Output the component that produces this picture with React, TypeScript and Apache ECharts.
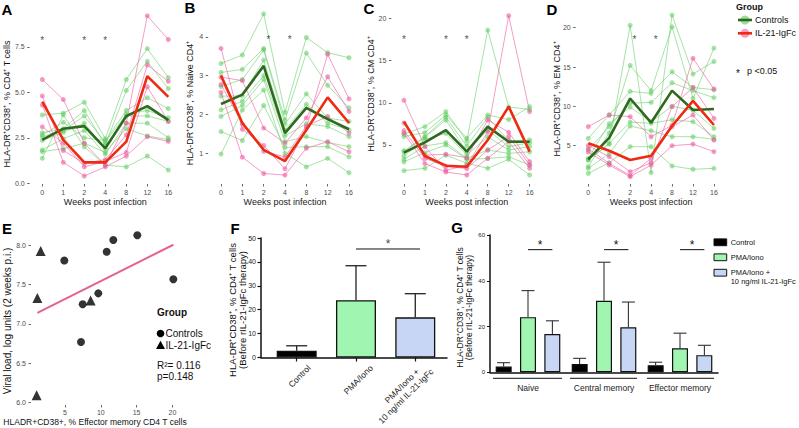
import React, { useEffect, useRef } from 'react';
import * as echarts from 'echarts';

// ---------- DATA ----------
const weeks = ['0', '1', '2', '4', '8', '12', '16'];

// Panel A: HLA-DR+CD38+, % CD4+ T cells
const aControls = [
  [3.75, 3.85, 4.45, 2.45, 5.7, 7.4, 5.8],
  [2.78, 3.0, 4.0, 2.1, 5.1, 6.7, 5.2],
  [2.65, 3.35, 2.5, 2.35, 4.0, 4.7, 4.1],
  [2.56, 2.9, 3.7, 2.25, 3.8, 4.0, 3.6],
  [2.36, 2.8, 3.3, 1.9, 3.7, 3.7, 3.4],
  [1.83, 2.45, 2.9, 1.6, 3.3, 3.3, 2.5],
  [1.74, 1.9, 2.2, 1.7, 3.0, 2.6, 2.4],
  [1.37, 3.75, 2.0, 1.0, 0.9, 1.5, 0.73],
];
const aIL21 = [
  [5.7, 4.6, 2.2, 1.0, 3.3, 9.2, 7.9],
  [4.8, 1.8, 1.1, 1.3, 2.65, 6.5, 5.6],
  [3.1, 2.2, 0.9, 1.2, 1.7, 5.3, 3.4],
  [4.3, 1.15, 0.4, 0.9, 1.5, 2.56, 2.3],
];
const aCtrlMean = [2.38, 3.0, 3.14, 1.92, 3.69, 4.24, 3.47];
const aIL21Mean = [4.48, 2.38, 1.15, 1.15, 2.29, 5.89, 4.75];
const aStarX = [0, 2, 3];
const aStarY = 7.95;

// Panel B: % Naive CD4+
const bControls = [
  [3.31, 3.53, 4.59, 2.05, 3.98, 3.59, 3.46],
  [3.08, 3.16, 3.7, 1.86, 3.58, 2.75, 2.17],
  [2.72, 2.9, 3.66, 1.75, 2.53, 1.91, 1.82],
  [2.47, 2.48, 3.4, 1.6, 2.26, 1.78, 1.6],
  [2.12, 2.34, 3.0, 1.45, 1.76, 1.69, 1.43],
  [1.95, 2.23, 2.9, 1.3, 1.43, 1.28, 1.17],
  [1.56, 1.33, 2.23, 1.15, 1.17, 1.17, 0.91],
  [0.98, 2.11, 2.63, 1.0, 0.65, 0.87, 0.5],
];
const bIL21 = [
  [3.7, 1.62, 1.2, 0.6, 1.65, 3.55, 2.4],
  [2.96, 2.87, 1.65, 1.26, 1.91, 2.97, 2.08],
  [2.77, 1.75, 1.05, 0.91, 1.7, 1.95, 1.52],
  [2.57, 0.9, 0.48, 0.44, 1.13, 1.3, 1.04],
];
const bCtrlMean = [2.27, 2.51, 3.25, 1.52, 2.17, 1.88, 1.62];
const bIL21Mean = [3.0, 1.78, 1.09, 0.8, 1.6, 2.44, 1.78];
const bStarX = [2.22, 3.22];
const bStarY = 3.97;

// Panel C: % CM CD4+
const cControls = [
  [6.3, 7.17, 8.95, 5.47, 18.6, 9.5, 9.2],
  [6.0, 6.46, 8.55, 5.8, 8.55, 8.0, 9.54],
  [4.3, 5.98, 8.28, 4.88, 8.28, 5.5, 5.59],
  [4.2, 5.9, 7.96, 4.21, 6.77, 4.8, 5.27],
  [3.7, 5.67, 6.38, 3.8, 5.98, 4.4, 4.8],
  [3.3, 4.88, 5.27, 3.42, 4.41, 4.0, 4.2],
  [3.0, 4.09, 5.0, 3.3, 3.4, 3.6, 2.63],
  [1.96, 2.24, 3.8, 2.83, 2.24, 3.3, 1.45],
];
const cIL21 = [
  [10.3, 4.8, 2.0, 2.6, 6.57, 20.3, 8.95],
  [7.6, 3.8, 3.9, 3.5, 7.96, 6.5, 3.03],
  [6.7, 3.4, 2.5, 2.2, 4.41, 6.0, 2.63],
  [6.4, 2.8, 1.8, 1.45, 3.42, 5.4, 2.24],
];
const cCtrlMean = [4.09, 5.3, 6.77, 4.21, 7.17, 5.39, 5.39];
const cIL21Mean = [7.76, 3.7, 2.55, 2.43, 5.59, 9.54, 4.21];
const cStarX = [0, 2, 3];
const cStarY = 17.7;

// Panel D: % EM CD4+
const dControls = [
  [3.2, 5.2, 20.3, 1.57, 21.6, 14.1, 15.7],
  [2.33, 6.6, 15.2, 12.0, 20.1, 11.0, 17.4],
  [5.93, 8.9, 11.9, 11.65, 14.4, 12.4, 12.1],
  [4.45, 7.42, 10.4, 10.5, 13.0, 12.0, 11.1],
  [3.39, 7.8, 9.9, 8.05, 10.0, 9.5, 7.2],
  [3.18, 5.3, 8.0, 7.84, 8.3, 8.05, 6.14],
  [2.12, 4.0, 7.5, 6.9, 6.14, 6.14, 5.8],
  [1.48, 2.84, 4.87, 4.87, 2.42, 2.0, 2.12],
];
const dIL21 = [
  [7.42, 8.9, 8.69, 6.14, 7.6, 16.1, 12.2],
  [5.0, 3.6, 1.69, 2.84, 9.96, 12.4, 8.47],
  [4.6, 2.75, 1.19, 3.4, 7.4, 8.9, 5.72],
  [4.2, 2.54, 1.06, 2.54, 5.0, 5.2, 4.24],
];
const dCtrlMean = [3.26, 6.0, 11.0, 7.92, 12.0, 9.53, 9.66];
const dIL21Mean = [5.3, 4.36, 3.18, 3.73, 7.5, 10.7, 7.63];
const dStarX = [2.2, 3.22];
const dStarY = 18.72;

// Panel E: scatter
const eCtrlX = [4.9, 7.23, 7.47, 9.65, 10.82, 11.75, 15.1, 20.13];
const eCtrlY = [7.81, 6.77, 7.25, 7.39, 7.92, 8.07, 8.13, 7.57];
const eIL21X = [1.6, 1.14, 8.58, 1.04];
const eIL21Y = [7.93, 7.33, 7.3, 6.09];
const eFitX = [1.14, 20.13];
const eFitY = [7.14, 8.01];
const eXTicks = [5, 10, 15, 20];
const eYTicks = [6.0, 6.5, 7.0, 7.5, 8.0];

// Panel F: bars
const fCategories = ['Control', 'PMA/Iono', 'PMA/Iono +\n10 ng/ml IL-21-IgFc'];
const fMeans = [2.8, 24.0, 16.8];
const fSD = [2.1, 14.4, 9.9];
const fSigFrom = 1;
const fSigTo = 2.08;
const fSigY = 45.4;
const fStarY = 48.6;

// Panel G: grouped bars
const gCategories = ['Naive', 'Central memory', 'Effector memory'];
const gSeriesNames = ['Control', 'PMA/Iono', 'PMA/Iono +\n10 ng/ml IL-21-IgFc'];
const gMeans = [
  [2.5, 3.6, 3.1],
  [24.1, 31.3, 10.5],
  [16.7, 19.7, 7.5],
];
const gSD = [
  [1.7, 2.5, 1.3],
  [11.6, 16.8, 6.6],
  [5.8, 11.0, 4.3],
];
const gSigY = 53.6;
const gStarY = 57.0;

// ---------- STYLE ----------
const FONT = '"Liberation Sans", Arial, Helvetica, sans-serif';
const GREEN = '#5ccc5c';
const PINK = '#ee5aa0';
const DKGREEN = '#2e6a1e';
const RED = '#ee2a10';
const BAR_COLORS = ['#000000', '#a0f5b0', '#c8d6f6'];
const TICK_GREY = '#4d4d4d';

function buildOption() {
  const grids: any[] = [];
  const xAxes: any[] = [];
  const yAxes: any[] = [];
  const series: any[] = [];
  const graphics: any[] = [];

  const weekIdx = weeks.map((_, i) => i);

  const linePanels = [
    { ctrl: aControls, il: aIL21, cm: aCtrlMean, im: aIL21Mean, sx: aStarX, sy: aStarY, left: 29.7, width: 151.2, min: -0.04, max: 9.63, ticks: [0, 2.5, 5, 7.5], fmt: (v: number) => v.toFixed(1) },
    { ctrl: bControls, il: bIL21, cm: bCtrlMean, im: bIL21Mean, sx: bStarX, sy: bStarY, left: 208.2, width: 153.6, min: 0.21, max: 4.74, ticks: [1, 2, 3, 4], fmt: (v: number) => String(v) },
    { ctrl: cControls, il: cIL21, cm: cCtrlMean, im: cIL21Mean, sx: cStarX, sy: cStarY, left: 391.4, width: 150.8, min: 0.38, max: 21.22, ticks: [5, 10, 15, 20], fmt: (v: number) => String(v) },
    { ctrl: dControls, il: dIL21, cm: dCtrlMean, im: dIL21Mean, sx: dStarX, sy: dStarY, left: 575.7, width: 150.8, min: 0.13, max: 22.5, ticks: [5, 10, 15, 20], fmt: (v: number) => String(v) },
  ];

  linePanels.forEach((p, i) => {
    grids.push({ left: p.left, top: 8, width: p.width, height: 176, containLabel: false, outerBoundsMode: 'none' });
    xAxes.push({
      type: 'value', gridIndex: i, min: -0.6, max: 6.6,
      axisLine: { show: false, onZero: false }, splitLine: { show: false },
      axisTick: { show: true, customValues: weekIdx, length: 2.5, lineStyle: { color: '#444', width: 0.8 } },
      axisLabel: { customValues: weekIdx, formatter: (v: number) => weeks[Math.round(v)], fontSize: 7, color: TICK_GREY, margin: 5, fontFamily: FONT },
    });
    yAxes.push({
      type: 'value', gridIndex: i, min: p.min, max: p.max,
      axisLine: { show: false, onZero: false }, splitLine: { show: false },
      axisTick: { show: true, customValues: p.ticks, length: 2.5, lineStyle: { color: '#444', width: 0.8 } },
      axisLabel: { customValues: p.ticks, formatter: p.fmt, fontSize: 7, color: TICK_GREY, margin: 5, fontFamily: FONT },
    });
    p.ctrl.forEach((row) => {
      series.push({
        type: 'line', xAxisIndex: i, yAxisIndex: i, silent: true, z: 2,
        data: row.map((v, j) => [j, v]), symbol: 'circle', symbolSize: 5,
        lineStyle: { color: GREEN, width: 1, opacity: 0.55 },
        itemStyle: { color: GREEN, opacity: 0.55 },
      });
    });
    p.il.forEach((row) => {
      series.push({
        type: 'line', xAxisIndex: i, yAxisIndex: i, silent: true, z: 2,
        data: row.map((v, j) => [j, v]), symbol: 'circle', symbolSize: 5,
        lineStyle: { color: PINK, width: 1, opacity: 0.6 },
        itemStyle: { color: PINK, opacity: 0.6 },
      });
    });
    series.push({
      type: 'line', xAxisIndex: i, yAxisIndex: i, silent: true, z: 5,
      data: p.cm.map((v, j) => [j, v]), symbol: 'none',
      lineStyle: { color: DKGREEN, width: 2.6 },
    });
    series.push({
      type: 'line', xAxisIndex: i, yAxisIndex: i, silent: true, z: 5,
      data: p.im.map((v, j) => [j, v]), symbol: 'none',
      lineStyle: { color: RED, width: 2.6 },
    });
    series.push({
      type: 'scatter', xAxisIndex: i, yAxisIndex: i, silent: true, z: 6,
      data: p.sx.map((x) => [x, p.sy]), symbolSize: 1,
      itemStyle: { color: 'rgba(0,0,0,0)' },
      label: { show: true, formatter: '*', position: 'inside', fontSize: 10, color: '#222', fontFamily: FONT, offset: [0, 2] },
    });
    const cx = p.left + p.width / 2;
    graphics.push({
      type: 'text', x: cx, y: 201.5, silent: true,
      style: { text: 'Weeks post infection', fontSize: 9, fontFamily: FONT, fill: '#222', align: 'center', verticalAlign: 'middle' },
    });
  });

  // ---- Panel E ----
  grids.push({ left: 31, top: 226, width: 152, height: 179, containLabel: false, outerBoundsMode: 'none' });
  xAxes.push({
    type: 'value', gridIndex: 4, min: 0.25, max: 21.48,
    axisLine: { show: false, onZero: false }, splitLine: { show: false },
    axisTick: { show: true, customValues: eXTicks, length: 2.5, lineStyle: { color: '#444', width: 0.8 } },
    axisLabel: { customValues: eXTicks, fontSize: 7, color: TICK_GREY, margin: 4, fontFamily: FONT },
  });
  yAxes.push({
    type: 'value', gridIndex: 4, min: 5.966, max: 8.249,
    axisLine: { show: false, onZero: false }, splitLine: { show: false },
    axisTick: { show: true, customValues: eYTicks, length: 2.5, lineStyle: { color: '#444', width: 0.8 } },
    axisLabel: { customValues: eYTicks, formatter: (v: number) => v.toFixed(1), fontSize: 7, color: TICK_GREY, margin: 5, fontFamily: FONT },
  });
  series.push({
    type: 'line', xAxisIndex: 4, yAxisIndex: 4, silent: true, z: 2,
    data: eFitX.map((x, i) => [x, eFitY[i]]), symbol: 'none',
    lineStyle: { color: '#e8628c', width: 2 },
  });
  series.push({
    type: 'scatter', xAxisIndex: 4, yAxisIndex: 4, silent: true, z: 3,
    data: eCtrlX.map((x, i) => [x, eCtrlY[i]]), symbol: 'circle', symbolSize: 8,
    itemStyle: { color: '#000' },
  });
  series.push({
    type: 'scatter', xAxisIndex: 4, yAxisIndex: 4, silent: true, z: 3,
    data: eIL21X.map((x, i) => [x, eIL21Y[i]]), symbol: 'triangle', symbolSize: 10,
    itemStyle: { color: '#000' },
  });

  // ---- Panel F ----
  const fIdx = fCategories.map((_, i) => i);
  const fLabelPos = [0.21, 1.26, 2.22];
  const fRich = {
    a: { fontSize: 8.5, lineHeight: 10, fontFamily: FONT, color: '#222', padding: [0, 10, 0, 0] },
    b: { fontSize: 8.5, lineHeight: 10, fontFamily: FONT, color: '#222' },
  };
  grids.push({ left: 261, top: 238, width: 186, height: 119.5, containLabel: false, outerBoundsMode: 'none' });
  xAxes.push({
    type: 'value', gridIndex: 5, min: -0.602, max: 2.535,
    axisLine: { show: true, onZero: false, lineStyle: { color: '#111', width: 1.5 } }, splitLine: { show: false },
    axisTick: { show: true, customValues: fIdx, length: 4, lineStyle: { color: '#111', width: 1.2 } },
    axisLabel: {
      customValues: fLabelPos,
      formatter: (v: number) => {
        const parts = fCategories[Math.round(v - 0.2)].split('\n');
        return parts.length > 1 ? `{a|${parts[0]}}\n{b|${parts[1]}}` : `{b|${parts[0]}}`;
      },
      rich: fRich, rotate: 45, fontSize: 8.5, color: '#222', margin: 9, fontFamily: FONT,
    },
  });
  yAxes.push({
    type: 'value', gridIndex: 5, min: 0, max: 50, interval: 10,
    axisLine: { show: true, onZero: false, lineStyle: { color: '#111', width: 1.5 } }, splitLine: { show: false },
    axisTick: { show: true, length: 3.5, lineStyle: { color: '#111', width: 1.2 } },
    axisLabel: { fontSize: 7, color: '#222', margin: 5, fontFamily: FONT },
  });
  series.push({
    type: 'bar', xAxisIndex: 5, yAxisIndex: 5, silent: true, barWidth: 40, z: 2,
    data: fMeans.map((m, i) => ({ value: [i, m], itemStyle: { color: BAR_COLORS[i] } })),
    itemStyle: { borderColor: '#111', borderWidth: 1.3 },
  });
  series.push({
    type: 'custom', xAxisIndex: 5, yAxisIndex: 5, silent: true, z: 3,
    data: fMeans.map((m, i) => [i, m, m + fSD[i]]),
    renderItem: (params: any, api: any) => {
      const p0 = api.coord([api.value(0), api.value(1)]);
      const p1 = api.coord([api.value(0), api.value(2)]);
      const st = { stroke: '#222', lineWidth: 1.3 };
      return {
        type: 'group', children: [
          { type: 'line', shape: { x1: p0[0], y1: p0[1], x2: p1[0], y2: p1[1] }, style: st },
          { type: 'line', shape: { x1: p1[0] - 10.5, y1: p1[1], x2: p1[0] + 10.5, y2: p1[1] }, style: st },
        ],
      };
    },
  });
  series.push({
    type: 'line', xAxisIndex: 5, yAxisIndex: 5, silent: true, z: 3,
    data: [[fSigFrom, fSigY], [fSigTo, fSigY]], symbol: 'none',
    lineStyle: { color: '#111', width: 1 },
  });
  series.push({
    type: 'scatter', xAxisIndex: 5, yAxisIndex: 5, silent: true, z: 3,
    data: [[(fSigFrom + fSigTo) / 2, fStarY]], symbolSize: 1, itemStyle: { color: 'rgba(0,0,0,0)' },
    label: { show: true, formatter: '*', position: 'inside', fontSize: 12, color: '#111', fontFamily: FONT, offset: [0, 3] },
  });

  // ---- Panel G ----
  grids.push({ left: 490, top: 235, width: 228, height: 137.3, containLabel: false, outerBoundsMode: 'none' });
  xAxes.push({
    type: 'category', gridIndex: 6, data: gCategories,
    axisLine: { show: true, onZero: false, lineStyle: { color: '#111', width: 1.5 } },
    axisTick: { show: false },
    axisLabel: { interval: 0, fontSize: 8.5, color: '#222', margin: 11, fontFamily: FONT },
  });
  yAxes.push({
    type: 'value', gridIndex: 6, min: 0, max: 60, interval: 20,
    axisLine: { show: true, onZero: false, lineStyle: { color: '#111', width: 1.5 } }, splitLine: { show: false },
    axisTick: { show: true, length: 3, lineStyle: { color: '#111', width: 1 } },
    axisLabel: { fontSize: 6, color: '#222', margin: 5, fontFamily: FONT },
  });
  const gOffsets = [-24.4, 0, 24.4];
  gMeans.forEach((row, s) => {
    series.push({
      type: 'bar', xAxisIndex: 6, yAxisIndex: 6, silent: true, z: 2, name: gSeriesNames[s],
      data: row, barWidth: 16, barGap: '52%',
      itemStyle: { color: BAR_COLORS[s], borderColor: '#111', borderWidth: 1.2 },
    });
  });
  const gErrData: number[][] = [];
  gMeans.forEach((row, s) => row.forEach((m, c) => gErrData.push([c, m, m + gSD[s][c], s])));
  series.push({
    type: 'custom', xAxisIndex: 6, yAxisIndex: 6, silent: true, z: 3,
    data: gErrData,
    renderItem: (params: any, api: any) => {
      const off = gOffsets[api.value(3)];
      const p0 = api.coord([api.value(0), api.value(1)]);
      const p1 = api.coord([api.value(0), api.value(2)]);
      const st = { stroke: '#333', lineWidth: 1.1 };
      return {
        type: 'group', children: [
          { type: 'line', shape: { x1: p0[0] + off, y1: p0[1], x2: p1[0] + off, y2: p1[1] }, style: st },
          { type: 'line', shape: { x1: p1[0] + off - 6.5, y1: p1[1], x2: p1[0] + off + 6.5, y2: p1[1] }, style: st },
        ],
      };
    },
  });
  series.push({
    type: 'custom', xAxisIndex: 6, yAxisIndex: 6, silent: true, z: 3,
    data: gCategories.map((_, c) => [c, gSigY, gStarY]),
    renderItem: (params: any, api: any) => {
      const p = api.coord([api.value(0), api.value(1)]);
      const ps = api.coord([api.value(0), api.value(2)]);
      return {
        type: 'group', children: [
          { type: 'line', shape: { x1: p[0], y1: p[1], x2: p[0] + gOffsets[2], y2: p[1] }, style: { stroke: '#111', lineWidth: 1 } },
          { type: 'text', x: ps[0] + gOffsets[2] / 2, y: ps[1] + 3, style: { text: '*', fontSize: 12, fontFamily: FONT, fill: '#111', align: 'center', verticalAlign: 'middle' } },
        ],
      };
    },
  });

  // ---- Graphic texts ----
  const letter = (t: string, x: number, y: number) => ({
    type: 'text', x, y, silent: true,
    style: { text: t, fontSize: 15, fontWeight: 'bold', fontFamily: FONT, fill: '#000', align: 'center', verticalAlign: 'middle' },
  });
  graphics.push(letter('A', 7, 9), letter('B', 190, 7), letter('C', 369, 8), letter('D', 552, 9));
  graphics.push(letter('E', 7, 228), letter('F', 235, 228), letter('G', 457, 227));

  const vtitle = (t: string, x: number, y: number, fs: number, lh?: number) => ({
    type: 'text', x, y, rotation: Math.PI / 2, silent: true,
    style: { text: t, fontSize: fs, lineHeight: lh || fs * 1.15, fontFamily: FONT, fill: '#111', align: 'center', verticalAlign: 'middle' },
  });
  graphics.push(vtitle('HLA-DR⁺CD38⁺, % CD4⁺ T cells', 7, 104, 9));
  graphics.push(vtitle('HLA-DR⁺CD38⁺, % Naive CD4⁺', 190, 103, 9));
  graphics.push(vtitle('HLA-DR⁺CD38⁺, % CM CD4⁺', 371, 94, 9));
  graphics.push(vtitle('HLA-DR⁺CD38⁺, % EM CD4⁺', 557, 99, 9));
  graphics.push(vtitle('Viral load, log units (2 weeks p.i.)', 7.5, 321, 10));
  graphics.push(vtitle('HLA-DR⁺CD38⁺, % CD4⁺ T cells\n(Before rIL-21-IgFc therapy)', 237.5, 310, 9.5, 9.5));
  graphics.push(vtitle('HLA-DR⁺CD38⁺, % CD4⁺ T cells\n(Before rIL-21-IgFc therapy)', 464.5, 307.5, 8.5, 9));
  graphics.push({
    type: 'text', x: 95, y: 421.7, silent: true,
    style: { text: 'HLADR+CD38+, % Effector memory CD4 T cells', fontSize: 8.5, fontFamily: FONT, fill: '#111', align: 'center', verticalAlign: 'middle' },
  });

  // Legend for A-D
  const txt = (t: string, x: number, y: number, fs: number, bold?: boolean) => ({
    type: 'text', x, y, silent: true,
    style: { text: t, fontSize: fs, fontWeight: bold ? 'bold' : 'normal', fontFamily: FONT, fill: '#111', align: 'left', verticalAlign: 'middle' },
  });
  graphics.push(txt('Group', 736, 6.5, 9, true));
  graphics.push({ type: 'circle', shape: { cx: 745, cy: 20, r: 4.5 }, style: { fill: GREEN, opacity: 0.6 }, silent: true });
  graphics.push({ type: 'line', shape: { x1: 738, y1: 20, x2: 752, y2: 20 }, style: { stroke: DKGREEN, lineWidth: 2.6 }, silent: true });
  graphics.push(txt('Controls', 755, 20, 9));
  graphics.push({ type: 'circle', shape: { cx: 745, cy: 33.3, r: 4.5 }, style: { fill: PINK, opacity: 0.6 }, silent: true });
  graphics.push({ type: 'line', shape: { x1: 738, y1: 33.3, x2: 752, y2: 33.3 }, style: { stroke: RED, lineWidth: 2.6 }, silent: true });
  graphics.push(txt('IL-21-IgFc', 755, 33.3, 9));
  graphics.push(txt('*', 736, 73, 10));
  graphics.push(txt('p <0.05', 747, 71, 9));

  // Legend for E
  graphics.push(txt('Group', 157, 312, 10, true));
  graphics.push({ type: 'circle', shape: { cx: 160.5, cy: 333.5, r: 3.8 }, style: { fill: '#000' }, silent: true });
  graphics.push(txt('Controls', 165.5, 333.5, 10));
  graphics.push({ type: 'polygon', shape: { points: [[156, 349], [165, 349], [160.5, 340.8]] }, style: { fill: '#000' }, silent: true });
  graphics.push(txt('IL-21-IgFc', 165.5, 345.5, 10));
  graphics.push(txt('R²= 0.116', 157, 365, 10));
  graphics.push(txt('p=0.148', 157, 376, 10));

  // Legend for G
  const gKeyY = [242.3, 257.3, 272.7];
  gSeriesNames.forEach((n, s) => {
    graphics.push({ type: 'rect', shape: { x: 714, y: gKeyY[s] - 3.4, width: 12.7, height: 6.8 }, style: { fill: BAR_COLORS[s], stroke: '#111', lineWidth: 1 }, silent: true });
    graphics.push({
      type: 'text', x: 730.7, y: gKeyY[s] - 4.2, silent: true,
      style: { text: n, fontSize: 7.5, lineHeight: 8.4, fontFamily: FONT, fill: '#111', align: 'left', verticalAlign: 'top' },
    });
  });
  // G group underlines
  const under = [[493, 562], [570, 637], [647, 714]];
  under.forEach(([a, b]) => graphics.push({ type: 'line', shape: { x1: a, y1: 378.3, x2: b, y2: 378.3 }, style: { stroke: '#111', lineWidth: 1 }, silent: true }));

  return {
    animation: false,
    backgroundColor: '#fff',
    textStyle: { fontFamily: FONT },
    grid: grids,
    xAxis: xAxes,
    yAxis: yAxes,
    series,
    graphic: { elements: graphics },
  };
}

export default function App() {
  const ref = useRef<HTMLDivElement>(null);
  useEffect(() => {
    document.body.style.margin = '0';
    const chart = echarts.init(ref.current!, null, { renderer: 'svg' });
    chart.setOption(buildOption() as any);
    return () => chart.dispose();
  }, []);
  return <div ref={ref} style={{ width: 799, height: 428, position: 'absolute', left: 0, top: 0 }} />;
}
